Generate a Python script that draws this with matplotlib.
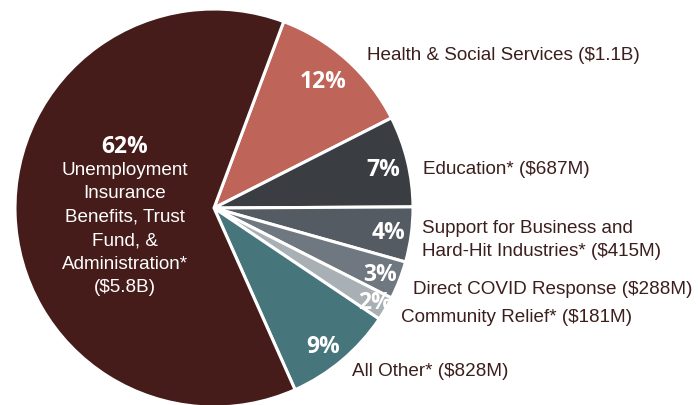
import matplotlib
matplotlib.use("Agg")
import matplotlib.pyplot as plt

# Spending by category, in millions of dollars (clockwise from the top)
categories = [
    "Health & Social Services ($1.1B)",
    "Education* ($687M)",
    "Support for Business and\nHard-Hit Industries* ($415M)",
    "Direct COVID Response ($288M)",
    "Community Relief* ($181M)",
    "All Other* ($828M)",
    "Unemployment\nInsurance\nBenefits, Trust\nFund, &\nAdministration*\n($5.8B)",
]
amounts = [1100, 687, 415, 288, 181, 828, 5800]
colors = ["#bf6459", "#3a3e42", "#555b62", "#6f7880", "#a9b0b5", "#46757b", "#451c1a"]

W, H = 698, 405
TEXT_COLOR = "#3b1f1d"

fig = plt.figure(figsize=(W / 100, H / 100), dpi=100)
ax = fig.add_axes([0, 0, 1, 1])

cx, cy, r = 214, H - 208, 199
ax.pie(
    amounts,
    colors=colors,
    startangle=69.5,
    counterclock=False,
    center=(cx, cy),
    radius=r,
    frame=True,
    wedgeprops=dict(edgecolor="white", linewidth=2.2),
)
ax.set_xlim(0, W)
ax.set_ylim(0, H)
ax.set_aspect("equal")
ax.axis("off")

total = sum(amounts)
pcts = [f"{round(100 * a / total)}%" for a in amounts]


def put(x, y, s, **kw):
    ax.text(x, H - y, s, **kw)


pct_font = dict(family="Open Sans", weight="bold", style="normal", color="white",
                fontsize=16.5, ha="center", va="center")
pct_pos = [(323, 82), (383, 170), (388, 233), (380, 275), (375, 303), (323, 347)]
for (x, y), p in zip(pct_pos, pcts[:6]):
    put(x, y, p, **pct_font)

# Large slice: percentage plus description inside the wedge
put(125, 147, pcts[6], **pct_font)
put(125, 229, categories[6], family="Liberation Sans", fontsize=13.6, color="white",
    ha="center", va="center", linespacing=1.5)

label_font = dict(family="Liberation Sans", fontsize=13.6, color=TEXT_COLOR,
                  ha="left", va="center", linespacing=1.5)
label_pos = [(367, 55), (423, 170), (422, 240), (413, 290), (401, 318), (352, 372)]
for (x, y), c in zip(label_pos, categories[:6]):
    put(x, y, c, **label_font)

fig.savefig("out.png", dpi=100)
